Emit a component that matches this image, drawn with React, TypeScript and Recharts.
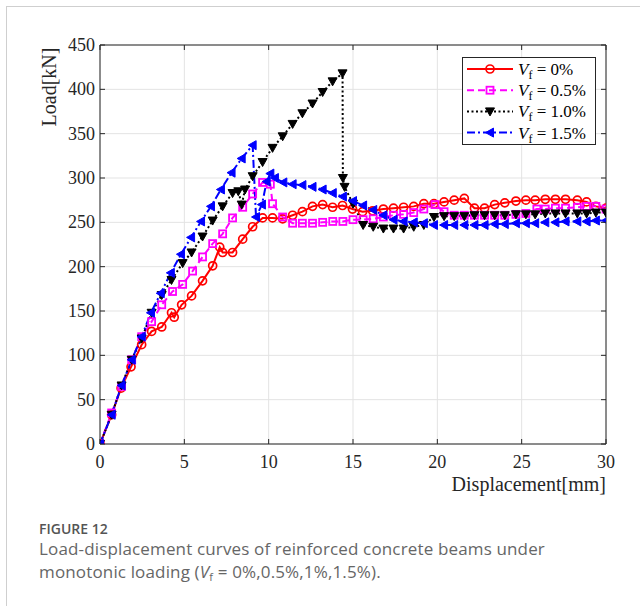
import { LineChart, Line, XAxis, YAxis, CartesianGrid, Label, ReferenceLine } from 'recharts';

// displacement [mm] / load [kN]
const disp0 = [0, 0.69, 1.25, 1.84, 2.47, 3.06, 3.66, 4.24, 4.4, 4.84, 5.43, 6.08, 6.68, 7.1, 7.27, 7.86, 8.46, 9.05, 9.64, 10.23, 10.83, 11.42, 12.0, 12.6, 13.2, 13.79, 14.38, 14.97, 15.57, 16.16, 16.8, 17.4, 18.0, 18.6, 19.2, 19.8, 20.4, 21.0, 21.6, 22.2, 22.8, 23.4, 24.0, 24.66, 25.25, 25.8, 26.4, 27.0, 27.6, 28.3, 28.85, 29.4, 30];
const load0 = [0, 33, 63, 87, 112, 127, 132, 148, 143, 157, 167, 184, 201, 222, 216, 216, 231, 245, 255, 255, 254, 258, 262, 268, 270, 267, 269, 265, 262, 263, 265, 266, 267, 268, 271, 271, 273, 275, 277, 266, 266, 270, 272, 274, 275, 275, 276, 276, 276, 275, 273, 268, 266];

const disp05 = [0, 0.69, 1.28, 1.88, 2.47, 3.06, 3.66, 4.3, 4.9, 5.49, 6.08, 6.68, 7.27, 7.86, 8.46, 9.05, 9.64, 10.1, 10.23, 10.83, 11.42, 12.0, 12.6, 13.2, 13.8, 14.4, 15.0, 15.6, 16.2, 16.8, 17.4, 18.0, 18.6, 19.2, 19.86, 20.4, 21.0, 21.6, 22.2, 22.8, 23.4, 24.0, 24.66, 25.25, 25.9, 26.4, 27.0, 27.6, 28.3, 28.85, 29.4, 30];
const load05 = [0, 35, 65, 95, 121, 138, 157, 172, 180, 195, 211, 226, 237, 255, 267, 282, 295, 293, 271, 256, 249, 249, 249, 250, 251, 251, 253, 253, 254, 256, 258, 259, 261, 265, 270, 262, 258, 258, 258, 258, 258, 258, 259, 260, 265, 265, 266, 266, 267, 268, 268, 265];

const disp10 = [0, 0.69, 1.28, 1.88, 2.47, 3.06, 3.66, 4.24, 4.9, 5.43, 6.08, 6.68, 7.27, 7.86, 8.2, 8.4, 8.6, 9.05, 9.64, 10.23, 10.83, 11.42, 12.0, 12.6, 13.2, 13.79, 14.38, 14.4, 14.5, 15.0, 15.6, 16.2, 16.8, 17.4, 18.0, 18.6, 19.2, 19.8, 20.4, 21.0, 21.6, 22.2, 22.8, 23.4, 24.0, 24.66, 25.25, 25.8, 26.4, 27.0, 27.6, 28.3, 28.85, 29.4, 30];
const load10 = [0, 33, 66, 95, 119, 148, 168, 185, 204, 216, 234, 252, 268, 283, 285, 270, 287, 302, 318, 334, 347, 361, 373, 384, 397, 409, 418, 300, 290, 271, 247, 245, 243, 243, 243, 245, 247, 256, 257, 257, 257, 258, 258, 258, 258, 259, 259, 259, 260, 260, 260, 260, 260, 261, 261];

const disp15 = [0, 0.69, 1.28, 1.88, 2.47, 3.02, 3.6, 4.2, 4.8, 5.4, 5.99, 6.58, 7.17, 7.8, 8.4, 9.05, 9.25, 9.6, 9.88, 10.1, 10.37, 10.87, 11.42, 12.0, 12.6, 13.2, 13.8, 14.4, 15.0, 15.6, 16.2, 16.8, 17.4, 18.0, 18.6, 19.2, 19.8, 20.4, 21.0, 21.6, 22.2, 22.8, 23.4, 24.0, 24.66, 25.25, 25.8, 26.4, 27.0, 27.6, 28.3, 28.85, 29.4, 30];
const load15 = [0, 33, 66, 95, 121, 148, 170, 193, 214, 233, 251, 268, 287, 306, 322, 337, 256, 270, 296, 305, 300, 295, 293, 292, 290, 287, 283, 279, 274, 269, 264, 258, 253, 251, 250, 249, 247, 247, 247, 247, 247, 247, 248, 248, 249, 249, 249, 250, 250, 251, 251, 251, 252, 252];

const xTicks = [0, 5, 10, 15, 20, 25, 30];
const yTicks = [0, 50, 100, 150, 200, 250, 300, 350, 400, 450];
const seriesNames = ['0%', '0.5%', '1.0%', '1.5%'];

const W = 640;
const H = 500;
const M = { top: 45, right: 34, left: 0, bottom: 0 };
const PLOT_TOP = M.top;
const PLOT_RIGHT = W - M.right;
const serif = '"Liberation Serif", "Times New Roman", serif';

const toPoints = (xs: number[], ys: number[]) => xs.map((x, i) => ({ x, y: ys[i] }));

const RED = '#ff0000';
const MAG = '#ff00ff';
const BLK = '#000000';
const BLU = '#0000ff';

const circle = (cx: number, cy: number, k?: string) => (
  <circle key={k} cx={cx} cy={cy} r={4} fill="none" stroke={RED} strokeWidth={1.7} />
);
const square = (cx: number, cy: number, k?: string) => (
  <rect key={k} x={cx - 3.5} y={cy - 3.5} width={7} height={7} fill="none" stroke={MAG} strokeWidth={1.8} />
);
const triDown = (cx: number, cy: number, k?: string) => (
  <path key={k} d={`M${cx - 4.5},${cy - 3.5}L${cx + 4.5},${cy - 3.5}L${cx},${cy + 4.5}Z`} fill={BLK} stroke={BLK} strokeWidth={1} />
);
const triLeft = (cx: number, cy: number, k?: string) => (
  <path key={k} d={`M${cx - 4.5},${cy}L${cx + 3.5},${cy - 4.5}L${cx + 3.5},${cy + 4.5}Z`} fill={BLU} stroke={BLU} strokeWidth={1} />
);

const series = [
  { data: toPoints(disp0, load0), color: RED, dash: undefined, marker: circle },
  { data: toPoints(disp05, load05), color: MAG, dash: '7 4', marker: square },
  { data: toPoints(disp10, load10), color: BLK, dash: '2 2.5', marker: triDown },
  { data: toPoints(disp15, load15), color: BLU, dash: '8 3 2 3', marker: triLeft },
];

const XTick = (props: any) => {
  const { x, y, payload } = props;
  return (
    <g>
      <line x1={x} x2={x} y1={y} y2={y - 5} stroke="#262626" />
      <line x1={x} x2={x} y1={PLOT_TOP} y2={PLOT_TOP + 5} stroke="#262626" />
      <text x={x} y={y + 24} textAnchor="middle" fontFamily={serif} fontSize={18} fill="#262626">
        {payload.value}
      </text>
    </g>
  );
};

const YTick = (props: any) => {
  const { x, y, payload } = props;
  return (
    <g>
      <line x1={x} x2={x + 5} y1={y} y2={y} stroke="#262626" />
      <line x1={PLOT_RIGHT} x2={PLOT_RIGHT - 5} y1={y} y2={y} stroke="#262626" />
      <text x={x - 5} y={y + 6} textAnchor="end" fontFamily={serif} fontSize={18} fill="#262626">
        {payload.value}
      </text>
    </g>
  );
};

const LegendBox = () => (
  <svg width={134} height={88} style={{ display: 'block' }}>
    <rect x={0.5} y={0.5} width={133} height={87} fill="#fff" stroke="#262626" />
    {series.map((s, i) => {
      const cy = 12 + i * 21.2;
      return (
        <g key={i}>
          <line x1={5} x2={51} y1={cy} y2={cy} stroke={s.color} strokeWidth={2} strokeDasharray={s.dash} />
          {s.marker(28, cy)}
          <text x={56} y={cy + 6} fontFamily={serif} fontSize={17} fill="#000">
            <tspan fontStyle="italic">V</tspan>
            <tspan fontSize={12} dy={4}>f</tspan>
            <tspan dy={-4}>{` = ${seriesNames[i]}`}</tspan>
          </text>
        </g>
      );
    })}
  </svg>
);

export default function App() {
  return (
    <div style={{ position: 'absolute', left: 0, top: 0, width: 640, height: 606, overflow: 'hidden', background: '#fff' }}>
      <div style={{ position: 'absolute', left: 6, top: 6, width: 700, height: 700, border: '1px solid #cfcfcf' }} />
      <div style={{ position: 'absolute', left: 0, top: 0 }}>
        <LineChart width={W} height={H} margin={M}>
          <CartesianGrid stroke="#e3e3e3" strokeWidth={1} />
          <XAxis
            type="number"
            dataKey="x"
            domain={[0, 30]}
            ticks={xTicks}
            allowDataOverflow
            height={56}
            tickSize={0}
            tickMargin={0}
            tickLine={false}
            axisLine={{ stroke: '#262626' }}
            tick={<XTick />}
          >
            <Label
              content={(p: any) => {
                const vb = p.viewBox;
                return (
                  <text x={vb.x + vb.width} y={vb.y + 47} textAnchor="end" fontFamily={serif} fontSize={20} fill="#262626">
                    Displacement[mm]
                  </text>
                );
              }}
            />
          </XAxis>
          <YAxis
            type="number"
            domain={[0, 450]}
            ticks={yTicks}
            allowDataOverflow
            width={100}
            tickSize={0}
            tickMargin={0}
            tickLine={false}
            axisLine={{ stroke: '#262626' }}
            tick={<YTick />}
          >
            <Label
              content={(p: any) => {
                const vb = p.viewBox;
                const lx = vb.x + 56;
                const ly = vb.y + 42;
                return (
                  <text x={lx} y={ly} transform={`rotate(-90, ${lx}, ${ly})`} textAnchor="middle" fontFamily={serif} fontSize={20} fill="#262626">
                    Load[kN]
                  </text>
                );
              }}
            />
          </YAxis>
          <ReferenceLine x={30} stroke="#262626" />
          <ReferenceLine y={450} stroke="#262626" />
          {series.map((s, i) => (
            <Line
              key={i}
              data={s.data}
              dataKey="y"
              type="linear"
              stroke={s.color}
              strokeWidth={2}
              strokeDasharray={s.dash}
              dot={(p: any) => s.marker(p.cx, p.cy, `m${i}-${p.index}`)}
              activeDot={false}
              isAnimationActive={false}
            />
          ))}
        </LineChart>
      </div>
      <div style={{ position: 'absolute', left: 462, top: 57 }}>
        <LegendBox />
      </div>
      <div style={{ position: 'absolute', left: 39, top: 523, fontFamily: '"Open Sans", sans-serif', fontWeight: 600, fontSize: 14, lineHeight: '12px', color: '#555' }}>
        FIGURE 12
      </div>
      <div style={{ position: 'absolute', left: 39, top: 538, width: 590, fontFamily: '"Open Sans", sans-serif', fontSize: 17, lineHeight: '22.5px', color: '#666', letterSpacing: '0.15px' }}>
        Load-displacement curves of reinforced concrete beams under
        <br />
        monotonic loading (<i>V</i>
        <sub style={{ fontSize: 11, verticalAlign: '-3px' }}>f</sub> = 0%,0.5%,1%,1.5%).
      </div>
    </div>
  );
}
